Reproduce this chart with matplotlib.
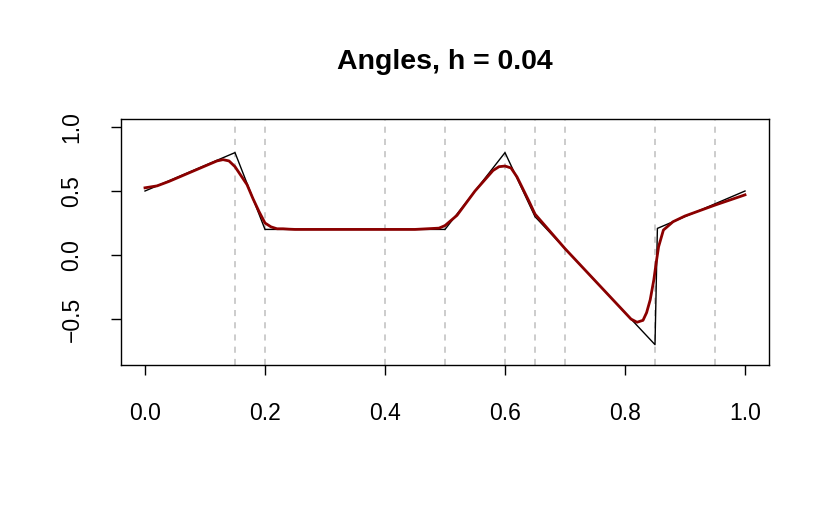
import numpy as np
import matplotlib
matplotlib.use("Agg")
import matplotlib.pyplot as plt

plt.rcParams['font.family'] = ['Liberation Sans', 'DejaVu Sans']

# true function (piecewise linear knots)
true_x = [0.0, 0.15, 0.2, 0.5, 0.6, 0.65, 0.85, 0.854, 1.0]
true_y = [0.5, 0.8, 0.2, 0.2, 0.8, 0.3, -0.7, 0.208, 0.5]

# smoothed estimate
fit_x = [0.0, 0.02, 0.04, 0.06, 0.08, 0.10, 0.12, 0.13, 0.14, 0.15, 0.16, 0.17,
         0.18, 0.19, 0.20, 0.21, 0.22, 0.23, 0.24, 0.25, 0.30, 0.35, 0.40, 0.45,
         0.47, 0.49, 0.50, 0.52, 0.55, 0.58, 0.59, 0.60, 0.61, 0.62, 0.64, 0.65,
         0.70, 0.75, 0.80, 0.81, 0.82, 0.83, 0.836, 0.842, 0.848, 0.852, 0.856,
         0.864, 0.88, 0.90, 0.95, 1.0]
fit_y = [0.525, 0.54, 0.575, 0.615, 0.655, 0.695, 0.735, 0.745, 0.735, 0.69, 0.62, 0.55,
         0.44, 0.34, 0.25, 0.22, 0.205, 0.205, 0.202, 0.2, 0.2, 0.2, 0.2, 0.2,
         0.205, 0.21, 0.23, 0.31, 0.5, 0.66, 0.69, 0.695, 0.68, 0.61, 0.42, 0.32,
         0.05, -0.2, -0.45, -0.5, -0.525, -0.51, -0.45, -0.35, -0.195, -0.06, 0.065,
         0.195, 0.26, 0.305, 0.39, 0.47]

knots = [0.15, 0.2, 0.4, 0.5, 0.6, 0.65, 0.7, 0.85, 0.95]

fig = plt.figure(figsize=(8.3, 5.16), dpi=100)
ax = fig.add_axes([121/830, 1-365/516, (769-121)/830, (365-119)/516])

for k in knots:
    ax.axvline(k, color='#BEBEBE', lw=1.1, ls=(0, (4, 4)))
ax.plot(true_x, true_y, color='black', lw=1.0)
ax.plot(fit_x, fit_y, color='#8B0000', lw=2.0)

ax.set_xlim(-0.04, 1.04)
ax.set_ylim(-0.859, 1.0625)
ax.set_xticks([0.0, 0.2, 0.4, 0.6, 0.8, 1.0])
ax.set_xticklabels(['0.0', '0.2', '0.4', '0.6', '0.8', '1.0'])
ax.set_yticks([-0.5, 0.0, 0.5, 1.0])
ax.set_yticklabels(['\u22120.5', '0.0', '0.5', '1.0'], rotation=90, va='center')
ax.tick_params(length=7, width=1, labelsize=16.5, color='black')
ax.tick_params(axis='x', pad=20)
ax.tick_params(axis='y', pad=20)
for s in ax.spines.values():
    s.set_linewidth(1)
ax.set_title('Angles, h = 0.04', fontsize=20.5, fontweight='bold', pad=36)

fig.savefig('out.png', dpi=100)
